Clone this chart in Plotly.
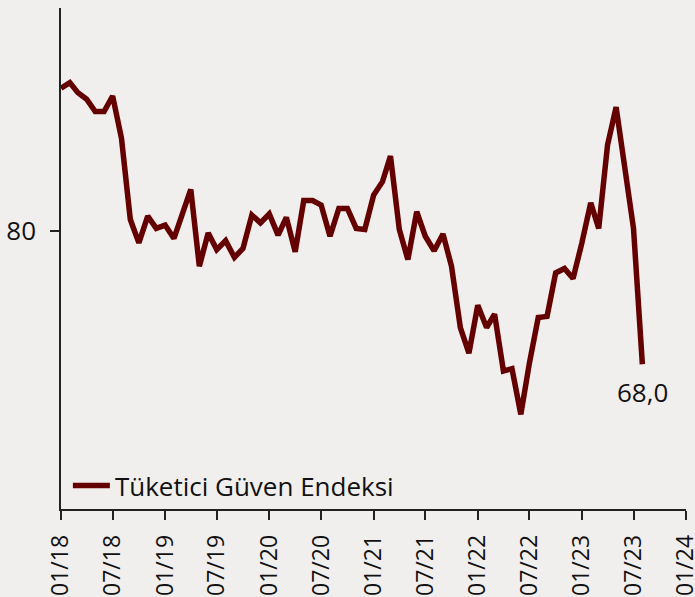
import plotly.graph_objects as go
import pandas as pd

# Monthly index values, Jan 2018 .. Aug 2023
months = pd.date_range("2018-01-01", "2023-08-01", freq="MS")
values = [
    92.8, 93.3, 92.4, 91.8, 90.7, 90.7, 92.1, 88.3, 81.0, 78.9, 81.3, 80.2,
    80.5, 79.3, 81.4, 83.7, 76.8, 79.8, 78.3, 79.1, 77.6, 78.4, 81.4, 80.7,
    81.5, 79.6, 81.2, 78.1, 82.7, 82.7, 82.3, 79.5, 82.0, 82.0, 80.2, 80.1,
    83.2, 84.4, 86.7, 80.1, 77.4, 81.7, 79.5, 78.2, 79.7, 76.8, 71.3, 69.0,
    73.3, 71.3, 72.5, 67.4, 67.6, 63.5, 68.1, 72.2, 72.3, 76.2, 76.6, 75.7,
    78.9, 82.5, 80.2, 87.7, 91.1, 85.6, 80.2, 68.0,
]
series_name = "Tüketici Güven Endeksi"
last_label = "68,0"

tick_dates = pd.date_range("2018-01-01", "2024-01-01", freq="6MS")
tick_text = [d.strftime("%m/%y") for d in tick_dates]
y_ticks = [80]
y_ticktext = ["80"]

FONT = "Open Sans"
LINE_COLOR = "#650000"
BG = "#f1efee"
TEXT = "#111111"

fig = go.Figure()
fig.add_trace(go.Scatter(
    x=months, y=values, mode="lines", name=series_name,
    line=dict(color=LINE_COLOR, width=5.5),
))

fig.add_annotation(
    x=months[-1], y=values[-1], text=last_label, showarrow=False,
    xanchor="center", yanchor="top", yshift=-8,
    font=dict(family=FONT, size=26, color=TEXT),
)

fig.update_layout(
    width=695, height=597,
    margin=dict(l=61, r=9, t=8, b=88, autoexpand=False),
    paper_bgcolor=BG, plot_bgcolor=BG,
    font=dict(family=FONT, size=26, color=TEXT),
    showlegend=True,
    legend=dict(
        x=0.011, y=0.0, xanchor="left", yanchor="bottom",
        itemwidth=37,
        bgcolor="rgba(0,0,0,0)", font=dict(family=FONT, size=26, color=TEXT),
    ),
    xaxis=dict(
        type="date",
        range=["2018-01-01", "2024-01-01"],
        tickvals=tick_dates, ticktext=tick_text,
        tickangle=-90,
        tickfont=dict(family=FONT, size=23, color=TEXT),
        ticks="outside", ticklen=9, tickwidth=1.5, tickcolor="#222222",
        showline=True, linecolor="#222222", linewidth=1.5,
        showgrid=False, zeroline=False,
        automargin=False,
        ticklabelstandoff=6,
        ticklabeloverflow="allow",
    ),
    yaxis=dict(
        range=[55, 100],
        tickvals=y_ticks, ticktext=y_ticktext,
        ticks="outside", ticklen=9, tickwidth=1.5, tickcolor="#222222",
        showline=True, linecolor="#222222", linewidth=1.5,
        showgrid=False, zeroline=False,
        automargin=False,
        ticklabelstandoff=9,
    ),
)

fig.write_html(
    "out.html",
    config={"displayModeBar": False},
    post_script="document.body.style.margin='0';document.body.style.background='%s';" % BG,
)
